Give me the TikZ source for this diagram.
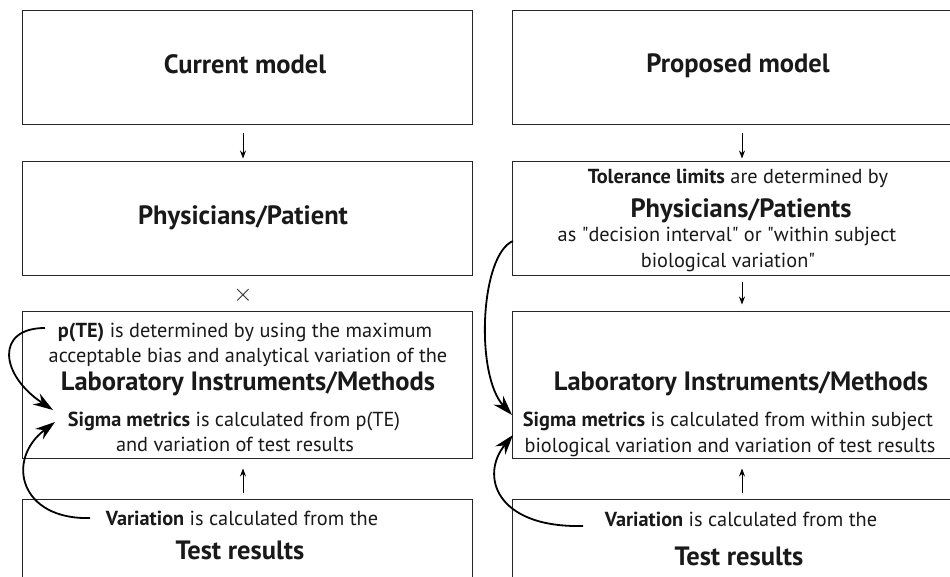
\documentclass[tikz,border=0pt]{standalone}
\usepackage{fontspec}
\setmainfont{PT Sans}
\usetikzlibrary{arrows.meta}
\font\qfont="PT Sans" at 20.3pt
\newcommand{\qq}{{\qfont\char34}}
\begin{document}
\begin{tikzpicture}[x=1pt,y=-1pt,
  box/.style={draw=black!85, line width=1pt, inner sep=0pt},
  tl/.style={font=\fontsize{26.5}{30}\selectfont\bfseries, inner sep=0pt, anchor=base, text=black!90},
  st/.style={font=\fontsize{20.3}{24}\selectfont, inner sep=0pt, anchor=base, text=black!90},
  mid/.style={font=\fontsize{26.5}{30}\selectfont\bfseries, inner sep=0pt, anchor=base, text=black!90},
  link/.style={-{Stealth[length=8pt,width=6pt]}, line width=0.8pt},
  curv/.style={-{Stealth[length=20pt,width=13pt]}, line width=1.8pt}]
\useasboundingbox (0,0) rectangle (950,577);
\clip (0,0) rectangle (950,577);
% boxes left
\node[box, minimum width=450, minimum height=114] (L1) at (247,68) {};
\node[box, minimum width=450, minimum height=114] (L2) at (247,219) {};
\node[box, minimum width=450, minimum height=147] (L3) at (247,384.5) {};
\node[box, minimum width=450, minimum height=100] (L4) at (247,549) {};
% boxes right
\node[box, minimum width=460, minimum height=114] (R1) at (742,68) {};
\node[box, minimum width=460, minimum height=114] (R2) at (742,219) {};
\node[box, minimum width=460, minimum height=147] (R3) at (742,384.5) {};
\node[box, minimum width=460, minimum height=100] (R4) at (742,549) {};
% left texts
\node[tl] (cm) at (245,74) {Current model};
\node[tl] (pp) at (243,225) {Physicians/Patient};
\node[st] (l3a) at (245,337) {\textbf{p(TE)} is determined by using the maximum};
\node[st] (l3b) at (248,362) {acceptable bias and analytical variation of the};
\node[mid] (l3c) at (248,390) {Laboratory Instruments/Methods};
\node[st] (l3d) at (234,426) {\textbf{Sigma metrics} is calculated from p(TE)};
\node[st] (l3e) at (235,451) {and variation of test results};
\node[st] (l4a) at (242,525) {\textbf{Variation} is calculated from the};
\node[tl] (l4b) at (240,559) {Test results};
% right texts
\node[tl] (pm) at (738,73) {Proposed model};
\node[st] (r2a) at (738,184) {\textbf{Tolerance limits} are determined by};
\node[tl] (r2b) at (741,218) {Physicians/Patients};
\node[st] (r2c) at (727,242) {as \qq decision interval\qq{} or \qq within subject};
\node[st] (r2d) at (728,268) {biological variation\qq};
\node[mid] (r3a) at (741,390) {Laboratory Instruments/Methods};
\node[st] (r3b) at (728,426) {\textbf{Sigma metrics} is calculated from within subject};
\node[st] (r3c) at (730,452) {biological variation and variation of test results};
\node[st] (r4a) at (741,526) {\textbf{Variation} is calculated from the};
\node[tl] (r4b) at (739,565) {Test results};
% cross
\node[font=\fontsize{24}{26}\selectfont, inner sep=0pt, text=black!85] (x) at (243,295) {$\times$};
% straight arrows
\draw[link, shorten <=8pt, shorten >=3pt] (L1.south -| 243,0) -- (L2.north -| 243,0);
\draw[link, shorten <=8pt, shorten >=3pt] (R1.south) -- (R2.north);
\draw[link, shorten <=6pt, shorten >=6pt] (R2.south) -- (R3.north);
\draw[link, shorten <=6pt, shorten >=10pt] (L4.north -| 243,0) -- (L3.south -| 243,0);
\draw[link, shorten <=6pt, shorten >=10pt] (R4.north) -- (R3.south);
% curved arrows
\coordinate (a0) at (45,328);
\coordinate (a1) at (53,410);
\coordinate (b0) at (90,518);
\coordinate (b1) at (55,422);
\coordinate (c0) at (513,241);
\coordinate (c1) at (512,415);
\coordinate (d0) at (583,526);
\coordinate (d1) at (513,435);
\draw[curv] (a0) .. controls (-5,328) and (0,375) .. (a1);
\draw[curv] (b0) .. controls (20,520) and (5,460) .. (b1);
\draw[curv] (c0) .. controls (480,255) and (475,375) .. (c1);
\draw[curv] (d0) .. controls (495,528) and (480,475) .. (d1);
\end{tikzpicture}
\end{document}
